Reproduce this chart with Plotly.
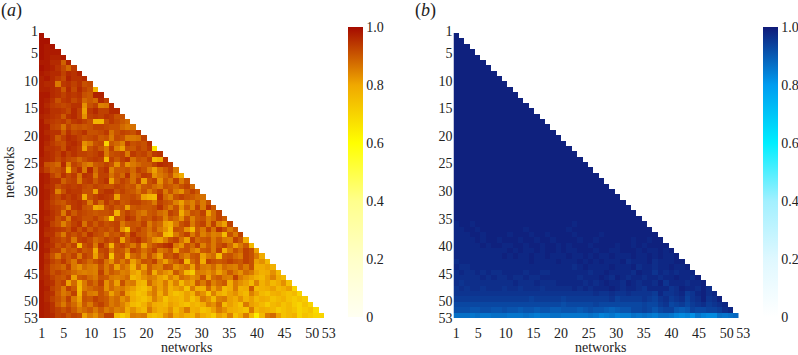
import plotly.graph_objects as go

networks = list(range(1, 54))
tick_labels = [1, 5, 10, 15, 20, 25, 30, 35, 40, 45, 50, 53]
colorbar_ticks = [0, 0.2, 0.4, 0.6, 0.8, 1.0]
colorbar_labels = ["0", "0.2", "0.4", "0.6", "0.8", "1.0"]

# similarity in percent, lower triangle, row by row
panel_a_rows = [
[99],
[99,99],
[99,98,99],
[99,98,98,98],
[99,98,97,97,98],
[98,98,96,96,89,97],
[99,98,97,95,92,88,94],
[98,97,96,96,93,96,95,97],
[97,98,96,94,92,97,95,95,96],
[97,96,96,86,94,95,93,95,91,92],
[97,97,96,95,90,96,92,96,93,91,77],
[98,98,96,95,93,95,94,95,91,90,97,97],
[98,97,95,91,94,95,92,94,88,90,88,96,93],
[98,96,94,93,92,93,95,95,83,91,93,85,86,96],
[98,97,95,95,94,92,96,93,81,94,96,93,93,96,96],
[97,96,95,94,90,95,96,93,83,93,94,93,95,94,91,91],
[98,95,94,93,94,91,94,95,93,91,77,77,91,94,92,90,88],
[98,97,93,92,87,93,90,91,90,91,93,93,92,91,91,88,86,87],
[98,96,95,95,90,95,92,93,95,91,91,92,94,87,91,93,92,91,94],
[98,97,95,90,93,96,95,93,91,92,93,90,91,86,92,91,86,86,87,93],
[98,96,94,92,91,95,96,94,83,86,91,92,70,90,88,85,94,91,92,91,95],
[98,95,95,94,91,96,95,93,81,91,93,90,86,93,85,81,91,90,93,91,94,66],
[98,96,95,93,96,93,95,93,93,92,93,95,86,91,92,93,86,94,92,93,90,94,95],
[97,96,95,92,94,92,91,88,91,93,94,93,76,93,90,93,95,87,91,90,93,76,79,95],
[97,91,90,88,96,85,93,91,87,85,90,91,93,91,83,91,83,86,88,90,90,93,96,95,94],
[96,93,90,91,93,79,91,95,86,96,88,93,95,85,90,90,91,88,93,91,86,81,87,90,93,86],
[98,97,93,90,95,92,94,87,95,94,86,93,93,87,91,88,95,87,90,94,93,83,86,88,91,83,79],
[98,97,95,95,89,92,93,86,93,94,90,93,95,81,90,93,91,87,93,81,91,93,83,90,87,93,86,91],
[98,96,95,91,93,94,93,94,92,91,93,92,91,91,93,92,90,91,85,90,91,88,86,91,90,88,91,93,88],
[98,97,95,85,91,95,94,94,91,91,81,93,95,95,91,93,91,90,87,91,86,90,93,86,91,86,83,90,93,90],
[98,97,94,92,95,93,95,93,79,91,93,95,94,93,81,91,91,92,90,81,78,76,95,88,85,91,93,91,90,88,87],
[98,96,93,91,90,93,94,95,93,86,93,88,94,91,93,90,91,93,93,91,90,86,93,91,90,85,81,87,85,90,86,91],
[98,96,94,93,91,85,94,95,91,90,79,81,91,93,90,91,81,90,91,90,90,91,95,90,86,91,83,90,85,93,86,95,90],
[98,97,95,93,86,94,90,93,92,91,90,91,91,92,78,90,93,91,88,86,90,91,88,86,93,91,79,86,91,90,93,81,88,93],
[98,96,95,91,93,86,94,93,91,91,93,90,87,70,91,90,95,93,88,91,90,93,91,85,90,88,83,91,85,90,91,86,88,93,90],
[98,97,93,91,85,90,93,95,87,93,90,93,91,92,93,86,90,91,90,93,86,90,88,81,79,86,91,93,86,91,93,86,93,85,81,93],
[98,96,95,94,93,91,95,91,94,90,93,91,92,90,93,83,74,91,93,90,87,91,86,83,76,91,90,83,76,90,86,93,87,95,91,86,90],
[98,95,95,91,86,93,91,93,90,95,92,91,87,91,90,93,88,95,91,90,86,88,90,76,74,86,90,93,86,91,85,88,85,86,76,91,86,93],
[98,97,94,93,91,93,86,93,94,92,88,90,93,91,93,81,90,93,95,91,88,83,81,86,91,93,87,81,93,88,90,91,86,90,86,85,93,90,79],
[98,96,95,91,93,90,93,76,91,93,86,95,90,78,91,93,90,86,91,81,88,91,93,95,96,86,83,91,88,93,85,90,86,91,93,88,81,86,90,76],
[98,97,93,93,87,91,90,93,90,91,79,92,93,86,91,90,85,93,91,87,90,93,86,88,91,81,90,91,86,83,90,91,86,93,79,86,91,88,93,91,81],
[98,95,91,86,92,90,93,86,93,91,81,90,93,74,90,91,79,88,90,85,91,86,81,91,90,93,88,85,90,91,81,86,88,76,90,91,88,86,93,91,86,79],
[98,96,93,91,94,90,86,93,91,88,91,93,87,83,90,86,90,81,86,91,90,93,86,81,87,90,93,76,88,91,79,93,91,90,91,93,91,90,93,91,81,83,76],
[98,95,91,90,88,93,86,83,88,86,85,91,86,90,81,88,85,78,88,81,90,86,85,91,90,83,86,88,81,90,86,85,88,83,88,86,85,90,86,91,79,79,81,78],
[97,95,91,93,91,90,88,86,85,86,85,93,86,90,88,85,86,81,78,85,90,79,86,83,81,90,86,76,72,86,85,83,86,81,85,90,86,83,88,86,81,78,79,83,76],
[97,96,93,91,90,93,81,90,91,88,86,91,90,86,85,86,88,76,79,83,86,85,81,78,85,81,88,86,83,85,91,81,88,90,86,85,93,86,83,81,78,76,81,85,79,76],
[98,96,95,91,93,81,88,78,86,91,88,93,83,88,81,91,85,86,78,76,88,83,81,86,79,85,76,83,81,90,86,91,85,88,90,79,86,83,81,76,85,78,81,76,79,83,74],
[98,97,93,91,86,93,90,76,86,88,90,91,83,88,85,86,83,81,76,74,79,86,81,85,78,81,83,74,86,79,78,88,81,86,76,79,86,78,79,90,76,78,79,81,76,78,81,70],
[98,96,95,90,86,88,93,78,90,86,85,91,88,81,86,90,81,78,74,76,83,86,79,85,78,74,76,81,78,86,83,74,85,79,76,81,83,79,76,85,81,76,74,78,79,76,74,76,70],
[98,96,93,91,88,93,86,81,91,90,93,91,90,86,88,83,86,79,76,74,78,85,81,74,79,78,76,81,74,79,86,83,76,85,86,81,79,83,78,81,76,79,78,74,76,78,74,72,74,72],
[98,97,95,90,86,91,88,83,90,86,91,93,90,86,88,85,81,76,74,78,83,79,78,76,81,79,76,74,78,76,79,85,83,88,76,81,78,74,86,81,79,76,72,76,78,74,76,72,70,74,70],
[98,97,95,93,91,93,90,86,88,90,86,90,86,88,85,86,79,83,79,76,86,81,78,79,83,76,81,86,78,79,74,76,81,86,83,79,78,76,74,86,76,79,78,76,72,74,76,74,70,72,74,68],
[98,97,96,93,94,91,93,92,81,86,83,88,93,93,76,72,76,86,85,86,76,74,76,83,86,79,81,78,76,83,79,76,72,81,78,85,74,79,86,76,64,76,86,88,81,74,76,78,70,74,72,70,70],
]

panel_b_rows = [
[99],
[99,99],
[99,99,99],
[99,99,99,99],
[99,99,99,99,99],
[99,99,99,99,99,99],
[99,99,99,99,99,99,99],
[99,99,99,99,99,99,99,99],
[99,99,99,99,99,99,99,99,99],
[99,99,99,99,99,99,99,99,99,99],
[99,99,99,99,99,99,99,99,99,99,99],
[99,99,99,99,99,99,99,99,99,99,99,99],
[99,99,99,99,99,99,99,99,99,99,99,99,99],
[99,99,99,99,99,99,99,99,99,99,99,99,99,99],
[99,99,99,99,99,99,99,99,99,99,99,99,99,99,99],
[99,99,99,99,99,99,99,99,99,99,99,99,99,99,99,99],
[99,99,99,99,99,99,99,99,99,99,99,99,99,99,99,99,99],
[99,99,99,99,99,99,99,99,99,99,99,99,99,99,99,99,99,99],
[99,99,99,99,99,99,99,99,99,99,99,99,99,99,99,99,99,99,99],
[99,99,99,99,99,99,99,99,99,99,99,99,99,99,99,99,99,99,99,99],
[99,99,99,99,99,99,99,99,99,99,99,99,99,99,99,99,99,99,99,99,99],
[99,99,99,99,99,99,99,99,99,99,99,99,99,99,99,99,99,99,99,99,99,99],
[99,99,99,99,99,99,99,99,99,99,99,99,99,99,99,99,99,99,99,99,99,99,99],
[99,99,99,99,99,99,99,99,99,99,99,99,99,99,99,99,99,99,99,99,99,99,99,99],
[99,99,99,99,99,99,99,99,99,99,99,99,99,99,99,99,99,99,99,99,99,99,99,99,99],
[99,99,99,99,99,99,99,99,99,99,99,99,99,99,99,99,99,99,99,99,99,99,99,99,99,99],
[99,99,99,99,99,99,99,99,99,99,99,99,99,99,99,99,99,99,99,99,99,99,99,99,99,99,99],
[99,99,99,99,99,99,99,99,99,99,99,99,99,99,99,99,99,99,99,99,99,99,99,99,99,99,99,99],
[99,99,99,99,99,99,99,99,99,99,99,99,99,99,99,99,99,99,99,99,99,99,99,99,99,99,99,99,99],
[99,99,99,99,99,99,99,99,99,99,99,99,99,99,99,99,99,99,99,99,99,99,99,99,99,99,99,99,99,99],
[99,99,99,99,99,99,99,99,99,99,99,99,99,99,99,99,99,99,99,99,99,99,99,99,99,99,99,99,99,99,99],
[99,99,99,99,99,99,99,99,99,99,99,99,99,99,99,99,99,99,99,99,99,99,99,99,99,99,99,99,99,99,99,99],
[99,99,99,99,99,99,99,99,99,99,99,99,99,99,99,99,99,99,99,99,99,99,99,99,99,99,99,99,99,99,99,99,99],
[99,99,99,99,99,99,99,99,99,99,99,99,99,99,99,99,99,99,99,99,99,99,99,99,99,99,99,99,99,99,99,99,99,99],
[99,99,99,99,99,99,99,99,99,99,99,99,99,99,99,99,99,99,99,99,99,99,99,99,99,99,99,99,99,99,99,99,99,99,99],
[98,99,99,98,99,99,99,99,99,99,99,99,99,99,99,99,99,99,99,99,99,99,98,99,99,99,99,99,99,99,99,99,99,99,99,99],
[98,98,99,99,98,99,99,99,99,99,99,99,99,98,99,99,99,99,99,99,99,98,99,99,99,99,99,99,99,99,99,99,99,99,99,99,99],
[98,98,98,99,99,98,99,99,99,99,98,99,99,99,98,99,99,98,99,99,99,99,98,99,99,99,99,98,99,99,99,99,99,99,99,99,99,99],
[98,98,98,98,99,98,99,99,98,99,99,99,98,99,99,98,99,99,98,99,99,99,99,98,99,99,98,99,99,99,99,99,99,98,99,99,98,99,99],
[98,98,98,98,98,99,98,99,99,98,98,99,99,98,99,99,98,99,99,98,99,98,99,99,99,98,99,99,99,99,98,99,99,98,99,98,99,99,99,99],
[98,98,98,98,98,98,98,98,98,98,99,98,99,98,98,99,98,99,99,98,99,98,98,99,99,99,98,99,99,98,98,99,99,99,98,99,98,98,99,98,99],
[98,98,98,98,98,98,98,98,98,99,98,99,98,98,99,98,98,99,98,98,98,99,98,98,99,98,99,98,98,99,98,98,98,99,98,98,99,98,99,98,98,99],
[97,98,98,98,98,98,98,98,98,98,98,98,98,98,99,98,98,98,98,99,98,98,98,99,98,99,98,99,98,98,98,99,97,98,98,98,99,97,98,98,98,99,99],
[98,97,97,98,98,98,98,98,98,98,98,98,98,98,98,98,98,98,98,98,98,98,97,98,99,98,98,98,98,99,98,98,98,99,97,98,98,97,98,98,99,98,98,99],
[97,98,97,97,98,97,98,97,97,98,98,98,98,97,98,98,97,97,98,98,98,98,98,98,98,97,98,98,99,98,98,98,98,97,99,98,98,96,98,97,98,97,98,98,98],
[97,97,97,97,97,98,97,98,97,97,98,97,97,98,97,97,98,98,98,98,98,98,98,97,98,98,98,99,98,97,99,98,97,98,98,97,98,98,97,98,98,99,98,98,97,99],
[97,96,97,97,97,97,97,97,97,97,97,98,97,97,97,98,97,97,97,98,98,98,98,98,97,98,97,98,99,98,98,97,99,98,97,98,98,97,99,96,98,98,98,97,98,98,99],
[96,97,96,97,97,96,97,97,97,96,97,97,96,97,97,97,96,97,97,97,97,97,98,97,98,97,98,98,98,99,98,97,98,98,97,96,98,98,98,98,96,97,99,98,98,97,99,97],
[96,96,96,96,96,96,96,96,96,96,96,96,96,96,96,96,96,96,96,96,96,96,96,96,96,96,97,96,96,97,96,96,97,96,96,96,96,95,98,96,96,97,98,95,96,98,99,97,98],
[95,95,95,95,95,95,95,95,95,95,95,95,95,95,94,95,95,95,95,95,94,95,95,95,95,95,95,95,95,96,94,95,95,95,95,96,95,94,96,97,95,96,97,94,96,97,99,96,97,99],
[93,93,93,93,93,93,93,93,93,93,93,93,93,93,93,93,93,93,93,93,92,93,93,93,93,93,94,93,93,93,93,93,93,93,93,94,93,93,95,96,93,94,95,93,95,96,97,95,96,97,98],
[92,92,92,91,91,92,92,91,91,92,91,91,90,91,91,90,91,91,90,90,91,91,91,90,91,92,91,91,90,89,90,91,91,93,93,94,93,91,93,94,94,91,90,91,94,93,93,94,94,95,97,98],
[87,87,87,86,87,86,86,87,87,87,86,86,86,87,86,85,86,86,87,87,86,86,86,86,86,87,86,84,85,86,84,85,85,87,86,87,86,85,87,87,86,84,83,84,82,86,84,83,83,87,86,87,88],
]

colorscale_a = [[0, "#fffff2"], [0.2, "#ffffc8"], [0.4, "#ffff8c"], [0.6, "#ffff00"],
                [0.8, "#f0a800"], [1, "#a50a00"]]
colorscale_b = [[0, "#ffffff"], [0.2, "#dff8ff"], [0.4, "#a2f0ff"], [0.6, "#00eeff"],
                [0.8, "#009cf0"], [1, "#101a78"]]

W, H = 798, 355
CELL = 285 / 53
TOP, LEFT_A, LEFT_B = 33, 39, 453.5


def matrix(rows):
    n = len(networks)
    return [[v / 100 for v in r] + [None] * (n - len(r)) for r in rows]


def heat(rows, scale, bar_x, xaxis, yaxis):
    return go.Heatmap(
        z=matrix(rows), x=networks, y=networks, zmin=0, zmax=1,
        colorscale=scale, xaxis=xaxis, yaxis=yaxis, hoverongaps=False,
        colorbar=dict(
            x=bar_x / W, xanchor="left", xpad=0, ypad=0,
            y=1 - 27 / H, yanchor="top", lenmode="pixels", len=290,
            thicknessmode="pixels", thickness=15, outlinewidth=0,
            tickmode="array", tickvals=colorbar_ticks, ticktext=colorbar_labels,
            ticks="", tickfont=dict(size=14, color="#222222"),
        ),
    )


fig = go.Figure([
    heat(panel_a_rows, colorscale_a, 348, "x", "y"),
    heat(panel_b_rows, colorscale_b, 762.5, "x2", "y2"),
])

# tick labels in the reference sit on a slightly wider pitch than the cells
x_ticks = [1 + (n - 1) * 1.0265 for n in tick_labels]
y_ticks = [0.128 + (n - 1) * 1.0266 for n in tick_labels]
common = dict(showgrid=False, zeroline=False, showline=False, tickmode="array",
              ticktext=[str(n) for n in tick_labels], ticks="",
              tickfont=dict(size=14, color="#222222"), fixedrange=True)
x_span = 56          # cells covered by the x axis, range 0.5 .. 56.5
y_dom = [1 - (TOP + 54 * CELL) / H, 1 - (TOP - CELL) / H]


def x_dom(left):
    return [left / W, (left + x_span * CELL) / W]


fig.update_layout(
    width=W, height=H, margin=dict(l=0, r=0, t=0, b=0, pad=0, autoexpand=False),
    paper_bgcolor="white", plot_bgcolor="rgba(0,0,0,0)",
    font=dict(family="Liberation Serif", size=14, color="#222222"),
    xaxis=dict(domain=x_dom(LEFT_A), range=[0.5, 56.5], tickvals=x_ticks, anchor="y", **common),
    yaxis=dict(domain=y_dom, range=[54.5, -0.5], tickvals=y_ticks, anchor="x", **common),
    xaxis2=dict(domain=x_dom(LEFT_B), range=[0.5, 56.5], tickvals=x_ticks, anchor="y2", **common),
    yaxis2=dict(domain=y_dom, range=[54.5, -0.5], tickvals=y_ticks, anchor="x2", **common),
    annotations=[
        dict(text="networks", x=186.5 / W, y=1 - 347 / H, xref="paper", yref="paper",
             showarrow=False, xanchor="center", yanchor="middle", font=dict(size=14)),
        dict(text="networks", x=600.5 / W, y=1 - 347 / H, xref="paper", yref="paper",
             showarrow=False, xanchor="center", yanchor="middle", font=dict(size=14)),
        dict(text="networks", x=9 / W, y=1 - 173 / H, xref="paper", yref="paper", textangle=-90,
             showarrow=False, xanchor="center", yanchor="middle", font=dict(size=14)),
        dict(text="(<i>a</i>)", x=11 / W, y=1 - 11 / H, xref="paper", yref="paper",
             showarrow=False, xanchor="center", yanchor="middle", font=dict(size=18)),
        dict(text="(<i>b</i>)", x=425 / W, y=1 - 11 / H, xref="paper", yref="paper",
             showarrow=False, xanchor="center", yanchor="middle", font=dict(size=18)),
    ],
)

fig.write_html("out.html", config=dict(displayModeBar=False),
               post_script="document.body.style.margin='0';")
